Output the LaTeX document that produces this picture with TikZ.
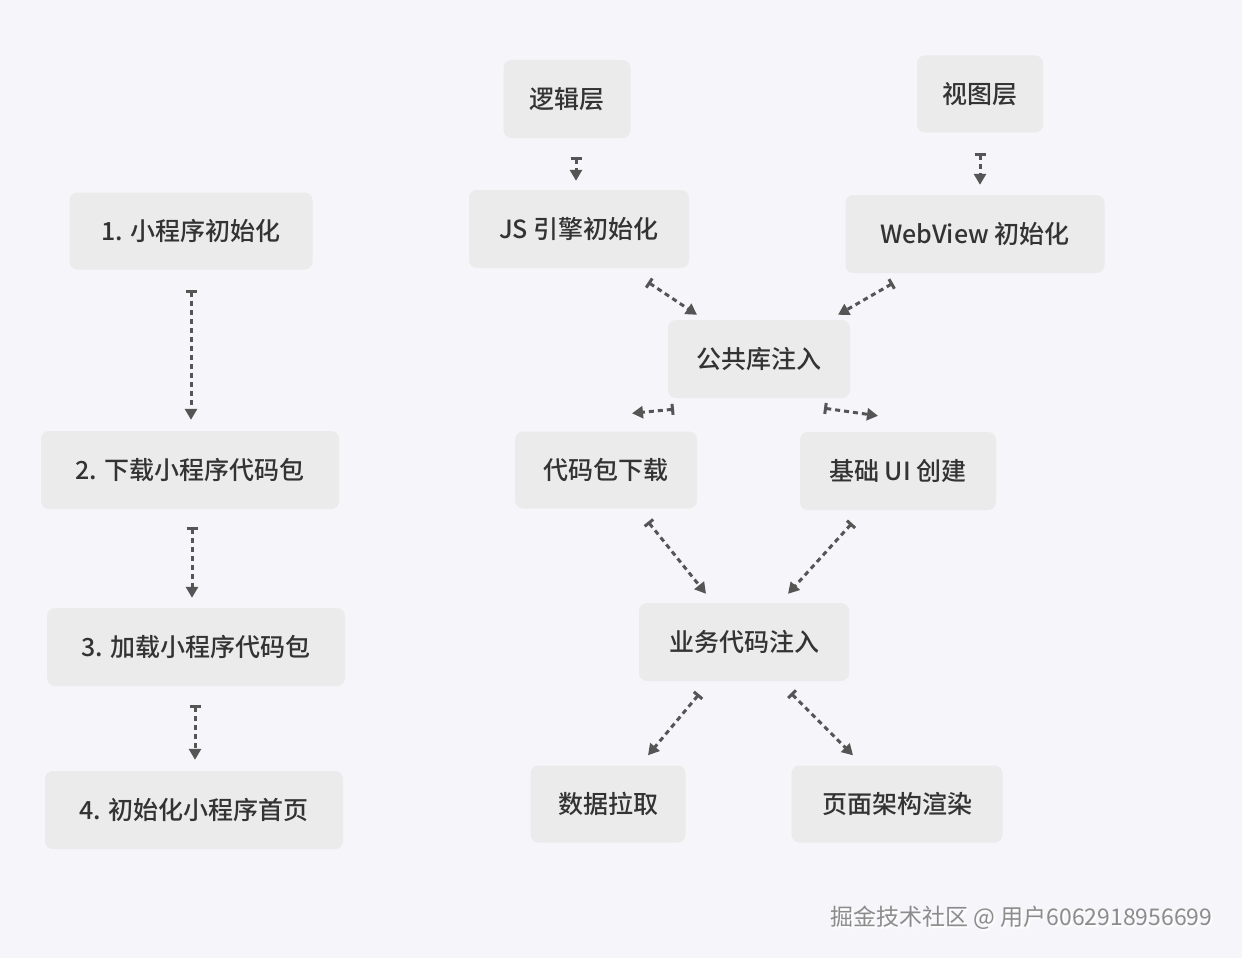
\documentclass[tikz,border=0pt]{standalone}
\usepackage{fontspec}
\setmainfont{Noto Sans CJK SC}
\newfontfamily\cjkmed{Noto Sans CJK SC Medium}
\usetikzlibrary{arrows.meta,calc}
\definecolor{bg}{HTML}{F5F5FA}
\definecolor{boxc}{HTML}{EBEBEB}
\definecolor{txt}{HTML}{333333}
\definecolor{arr}{HTML}{555555}
\tikzset{
 box/.style={fill=boxc,rounded corners=8pt,text=txt,font=\fontsize{25}{30}\selectfont\cjkmed,inner sep=0pt,anchor=center},
 flow/.style={arr,line width=3pt,dash pattern=on 5pt off 4pt,{Bar[width=11pt,line width=3pt]}-{Triangle[length=11pt,width=12pt]}}
}
\begin{document}
\begin{tikzpicture}[x=1pt,y=-1pt]
\fill[bg] (0,0) rectangle (1242,958);
\useasboundingbox (0,0) rectangle (1242,958);
\node[box,minimum width=243pt,minimum height=77pt] (n1) at (191,231) {1. 小程序初始化};
\node[box,minimum width=298pt,minimum height=78pt] (n2) at (190,470) {2. 下载小程序代码包};
\node[box,minimum width=298pt,minimum height=78pt] (n3) at (196,647) {3. 加载小程序代码包};
\node[box,minimum width=298pt,minimum height=78pt] (n4) at (194,810) {4. 初始化小程序首页};
\node[box,minimum width=127pt,minimum height=78pt] (lg) at (567,99) {逻辑层};
\node[box,minimum width=126pt,minimum height=77pt] (vw) at (980,94) {视图层};
\node[box,minimum width=220pt,minimum height=78pt] (js) at (579,229) {JS 引擎初始化};
\node[box,minimum width=259pt,minimum height=78pt] (wv) at (975,234) {WebView 初始化};
\node[box,minimum width=182pt,minimum height=78pt] (gg) at (759,359) {公共库注入};
\node[box,minimum width=182pt,minimum height=77pt] (dm) at (606,470) {代码包下载};
\node[box,minimum width=196pt,minimum height=78pt] (ui) at (898,471) {基础 UI 创建};
\node[box,minimum width=210pt,minimum height=78pt] (yw) at (744,642) {业务代码注入};
\node[box,minimum width=155pt,minimum height=77pt] (sj) at (608,804) {数据拉取};
\node[box,minimum width=211pt,minimum height=77pt] (ym) at (897,804) {页面架构渲染};
\draw[flow] ($(n1.south)+(0,20)$) -- ($(n2.north)+(1,-11)$);
\draw[flow] ($(n2.south)+(2,18)$) -- ($(n3.north)+(-4,-10)$);
\draw[flow] ($(n3.south)+(-1,19)$) -- ($(n4.north)+(1,-11)$);
\draw[flow] ($(lg.south)+(9,19)$) -- ($(js.north)+(-3,-9)$);
\draw[flow] ($(vw.south)+(0,20)$) -- ($(wv.north)+(5,-10)$);
\draw[flow] ($(js.south)+(69,14)$) -- ($(gg.north)+(-62,-5)$);
\draw[flow] ($(wv.south)+(-82,10)$) -- ($(gg.north)+(79,-5)$);
\draw[flow] ($(gg.south)+(-85,11)$) -- ($(dm.north)+(26,-18)$);
\draw[flow] ($(gg.south)+(65,10)$) -- ($(ui.north)+(-20,-16)$);
\draw[flow] ($(dm.south)+(42,13)$) -- ($(yw.north)+(-38,-9)$);
\draw[flow] ($(ui.south)+(-46,13)$) -- ($(yw.north)+(44,-9)$);
\draw[flow] ($(yw.south)+(-45,13)$) -- ($(sj.north)+(40,-10)$);
\draw[flow] ($(yw.south)+(47,12)$) -- ($(ym.north)+(-44,-10)$);
\node[anchor=east,text=white,font=\fontsize{23}{28}\selectfont] at (1218,920) {掘金技术社区 @ 用户6062918956699};
\node[anchor=east,text=gray!90,font=\fontsize{23}{28}\selectfont] (wm) at (1216,918) {掘金技术社区 @ 用户6062918956699};
\end{tikzpicture}
\end{document}
